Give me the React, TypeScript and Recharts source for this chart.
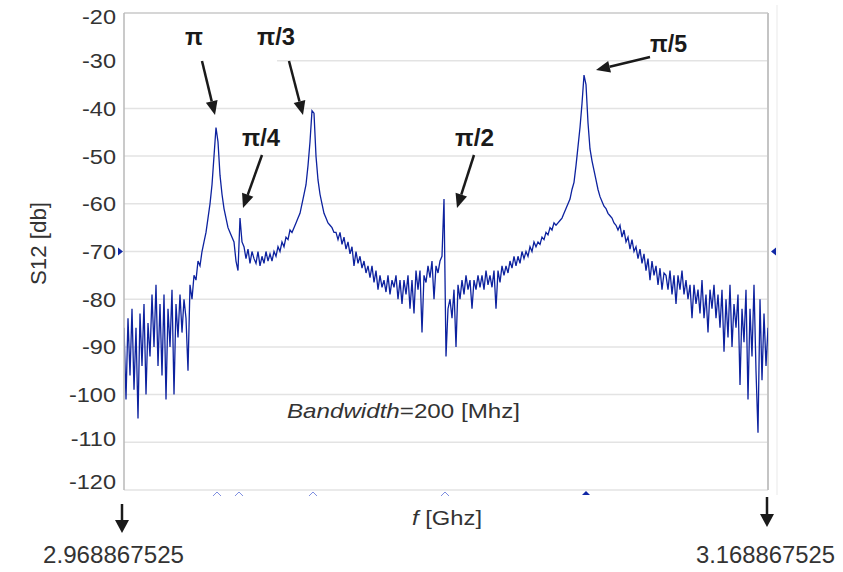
import React from 'react'
import { LineChart, Line, XAxis, YAxis, CartesianGrid, ReferenceLine, ReferenceDot } from 'recharts'

const FONT = '"Liberation Sans", Arial, sans-serif'

// sweep limits [GHz]
const F_START = 2.968867525
const F_END = 3.168867525

// S12, evenly spaced over the sweep [dB]
const S12_DB = [
  -86, -101, -84, -96, -82, -99, -86, -105, -83, -94,
  -81, -100, -85, -92, -79, -90, -77, -94, -81, -96,
  -79, -101, -82, -90, -78, -100, -81, -88, -79, -87,
  -80, -84, -95, -77, -80, -75, -76, -72, -73, -70,
  -68, -66, -63, -60, -56, -50, -44, -47, -54, -58,
  -61, -63, -65, -66, -67, -68, -72, -74, -63, -68,
  -69, -71.5, -69.5, -72.5, -70, -71.5, -72.5, -70, -73, -71,
  -72.5, -70, -72, -70.5, -72, -70, -71, -69, -70, -68,
  -69, -67, -67.5, -65.5, -66, -65, -64, -63, -62, -60,
  -58, -56, -52, -47, -40.5, -41, -50, -55, -58, -60,
  -62, -63, -64, -64.5, -65, -66, -66, -67.5, -66, -68.5,
  -67, -69.5, -68, -70.5, -69, -73, -70, -72.5, -71, -73.5,
  -72, -74.5, -73, -75.5, -73, -76.5, -74, -78, -75, -77.5,
  -76, -78.5, -75, -79, -76, -77.5, -75, -80, -76, -81,
  -76, -79, -75, -82, -76, -83, -74, -78, -74, -87,
  -75, -76.5, -73, -75.5, -72, -80, -73, -74.5, -72, -71,
  -59, -92, -82, -80, -84, -78, -90, -77, -80, -76,
  -79, -75, -78, -76, -82, -76, -78, -75, -77.5, -75,
  -78, -74, -77, -75, -77.5, -74, -82, -74, -76.5, -73,
  -75, -73, -74.5, -72, -73.5, -71, -73, -71, -72.5, -70,
  -71.5, -70, -71, -69, -70, -68, -69, -68, -68.5, -67,
  -67.5, -66, -66.5, -65, -65.5, -64, -64.5, -64, -63.5, -63,
  -62, -61, -60, -59, -57, -55.5, -52, -48, -44, -39,
  -33, -35, -43, -48.5, -51, -53, -55, -57, -58.5, -59.5,
  -60.5, -61, -62, -62.5, -63, -64, -64.5, -65.5, -64.5, -67,
  -65.5, -68, -67, -69.5, -67.5, -70, -69, -71.5, -69.5, -72.5,
  -70.5, -74, -71.5, -76, -72, -75, -73, -77, -73.5, -78,
  -74.5, -75, -78, -74, -79, -75, -81, -75, -78, -74,
  -79, -76, -80, -77, -84, -77, -81, -78, -83, -76,
  -84, -79, -87, -78, -82, -77, -84, -79, -86, -78,
  -91, -80, -88, -77, -90, -81, -86, -79, -98, -82,
  -89, -78, -101, -82, -92, -77, -95, -108, -80, -97,
  -83, -94, -86,
]

const F_STEP = (F_END - F_START) / (S12_DB.length - 1)

const FREQ_TICKS = [
  2.968867525, 2.988867525, 3.008867525, 3.028867525, 3.048867525, 3.068867525,
  3.088867525, 3.108867525, 3.128867525, 3.148867525, 3.168867525,
]
const DB_TICKS = [-120, -110, -100, -90, -80, -70, -60, -50, -40, -30, -20]
// the -30 line is cut short by the labels at the top left
const GRID_DB = [-120, -110, -100, -90, -80, -70, -60, -50, -40, -20]
const GRID30_FROM = 3.0164

// mode peaks: pi, pi/4, pi/3, pi/2 (open markers) and pi/5 (filled)
const PEAK_FREQS = [2.99775, 3.00458, 3.02756, 3.06856]
const MAIN_PEAK_FREQ = 3.11235

const rows = S12_DB.map((db, i) => ({ f: F_START + i * F_STEP, db }))

const TICK_SHIFT: Record<string, number> = { '-20': 3, '-110': -4, '-120': -9 }

const YTick = ({ x, y, payload }: any) => (
  <g transform={`translate(${x},${y + (TICK_SHIFT[String(payload.value)] ?? 0)}) scale(1.12,1)`}>
    <text x={0} y={0} dy="0.36em" textAnchor="end" fill="#333" fontSize={21} fontFamily={FONT}>
      {payload.value}
    </text>
  </g>
)

const Chevron = ({ cx, cy }: any) => (
  <polyline
    points={`${cx - 4},${cy + 6} ${cx},${cy + 2} ${cx + 4},${cy + 6}`}
    fill="none"
    stroke="#7f8fe0"
    strokeWidth={1}
  />
)

const FilledTri = ({ cx, cy }: any) => (
  <polygon points={`${cx - 4},${cy + 5} ${cx},${cy + 1} ${cx + 4},${cy + 5}`} fill="#1128a6" />
)

const LeftMark = ({ cx, cy }: any) => (
  <polygon points={`${cx - 6},${cy - 4} ${cx - 1},${cy} ${cx - 6},${cy + 4}`} fill="#1128a6" />
)

const RightMark = ({ cx, cy }: any) => (
  <polygon points={`${cx + 8},${cy - 4} ${cx + 3},${cy} ${cx + 8},${cy + 4}`} fill="#1128a6" />
)

// straight arrow with a filled head at (x2, y2)
const Arrow = ({ x1, y1, x2, y2, head = 14, half = 6 }: any) => {
  const len = Math.hypot(x2 - x1, y2 - y1)
  const ux = (x2 - x1) / len
  const uy = (y2 - y1) / len
  const bx = x2 - ux * head
  const by = y2 - uy * head
  return (
    <g>
      <line x1={x1} y1={y1} x2={bx} y2={by} stroke="#1a1a1a" strokeWidth={2.5} />
      <polygon
        points={`${x2},${y2} ${bx - uy * half},${by + ux * half} ${bx + uy * half},${by - ux * half}`}
        fill="#1a1a1a"
      />
    </g>
  )
}

const PeakLabel = ({ x, y, w, children }: any) => (
  <text x={x} y={y} textLength={w} lengthAdjust="spacingAndGlyphs" fontSize={24} fontWeight="bold" fill="#1a1a1a" fontFamily={FONT}>
    {children}
  </text>
)

export default function App() {
  return (
    <div style={{ position: 'absolute', left: 0, top: 0, width: 843, height: 572, background: '#fff' }}>
      <LineChart width={843} height={572} data={rows} margin={{ top: 13, right: 75, bottom: 82, left: 0 }}>
        <CartesianGrid
          stroke="#e3e3e3"
          strokeWidth={1.5}
          horizontalValues={GRID_DB}
          verticalValues={FREQ_TICKS}
        />
        <ReferenceLine
          segment={[{ x: GRID30_FROM, y: -30 }, { x: F_END, y: -30 }]}
          stroke="#e3e3e3"
          strokeWidth={1.5}
        />
        <ReferenceLine y={-20} stroke="#cfcfcf" strokeWidth={1.5} />
        <ReferenceLine x={F_END} stroke="#c4c4c4" strokeWidth={2} />
        <XAxis
          dataKey="f"
          type="number"
          domain={[F_START, F_END]}
          ticks={FREQ_TICKS}
          tick={false}
          tickLine={false}
          axisLine={{ stroke: '#8c8c8c', strokeWidth: 2 }}
          height={0}
          allowDataOverflow
        />
        <YAxis
          type="number"
          domain={[-120, -20]}
          ticks={DB_TICKS}
          interval={0}
          width={124}
          tickLine={false}
          axisLine={{ stroke: '#b8b8b8', strokeWidth: 1.5 }}
          tick={(p: any) => <YTick {...p} />}
          allowDataOverflow
        />
        <Line
          type="linear"
          dataKey="db"
          stroke="#0d229f"
          strokeWidth={1.3}
          dot={false}
          isAnimationActive={false}
        />
        {PEAK_FREQS.map((f) => (
          <ReferenceDot key={f} x={f} y={-120} r={0} shape={(p: any) => <Chevron {...p} />} ifOverflow="visible" />
        ))}
        <ReferenceDot x={MAIN_PEAK_FREQ} y={-120} r={0} shape={(p: any) => <FilledTri {...p} />} ifOverflow="visible" />
        <ReferenceDot x={F_START} y={-70} r={0} shape={(p: any) => <LeftMark {...p} />} ifOverflow="visible" />
        <ReferenceDot x={F_END} y={-70} r={0} shape={(p: any) => <RightMark {...p} />} ifOverflow="visible" />
      </LineChart>

      <svg
        width={843}
        height={572}
        style={{ position: 'absolute', left: 0, top: 0, pointerEvents: 'none' }}
      >
        <line x1={777} y1={5} x2={777} y2={495} stroke="#f0f0f0" strokeWidth={1.5} />

        <PeakLabel x={185} y={45} w={18}>π</PeakLabel>
        <PeakLabel x={257} y={45} w={38}>π/3</PeakLabel>
        <PeakLabel x={242} y={146} w={38}>π/4</PeakLabel>
        <PeakLabel x={455} y={146} w={39}>π/2</PeakLabel>
        <PeakLabel x={650} y={52} w={37}>π/5</PeakLabel>

        <Arrow x1={202} y1={61} x2={215} y2={115} />
        <Arrow x1={289} y1={61} x2={303} y2={115} />
        <Arrow x1={262} y1={155} x2={243} y2={208} />
        <Arrow x1={474} y1={155} x2={457} y2={208} />
        <Arrow x1={650} y1={57} x2={596} y2={70} />

        <text
          x={38.5}
          y={243.5}
          dy="0.36em"
          textAnchor="middle"
          transform="rotate(-90 38.5 243.5)"
          fontSize={22}
          fill="#333"
          fontFamily={FONT}
          textLength={83}
          lengthAdjust="spacingAndGlyphs"
        >
          S12 [db]
        </text>

        <text x={287} y={418} fontSize={21} fill="#333" fontFamily={FONT} textLength={233} lengthAdjust="spacingAndGlyphs">
          <tspan fontStyle="italic">Bandwidth</tspan>=200 [Mhz]
        </text>

        <text x={412} y={525} fontSize={21} fill="#333" fontFamily={FONT} textLength={70} lengthAdjust="spacingAndGlyphs">
          <tspan fontStyle="italic">f</tspan> [Ghz]
        </text>

        <Arrow x1={122} y1={504} x2={122} y2={533} head={13} half={7} />
        <Arrow x1={767} y1={497} x2={767} y2={527} head={13} half={7} />

        <text x={43} y={563} fontSize={24} fill="#333" fontFamily={FONT} textLength={141} lengthAdjust="spacingAndGlyphs">
          2.968867525
        </text>
        <text x={696} y={563} fontSize={24} fill="#333" fontFamily={FONT} textLength={139} lengthAdjust="spacingAndGlyphs">
          3.168867525
        </text>
      </svg>
    </div>
  )
}
